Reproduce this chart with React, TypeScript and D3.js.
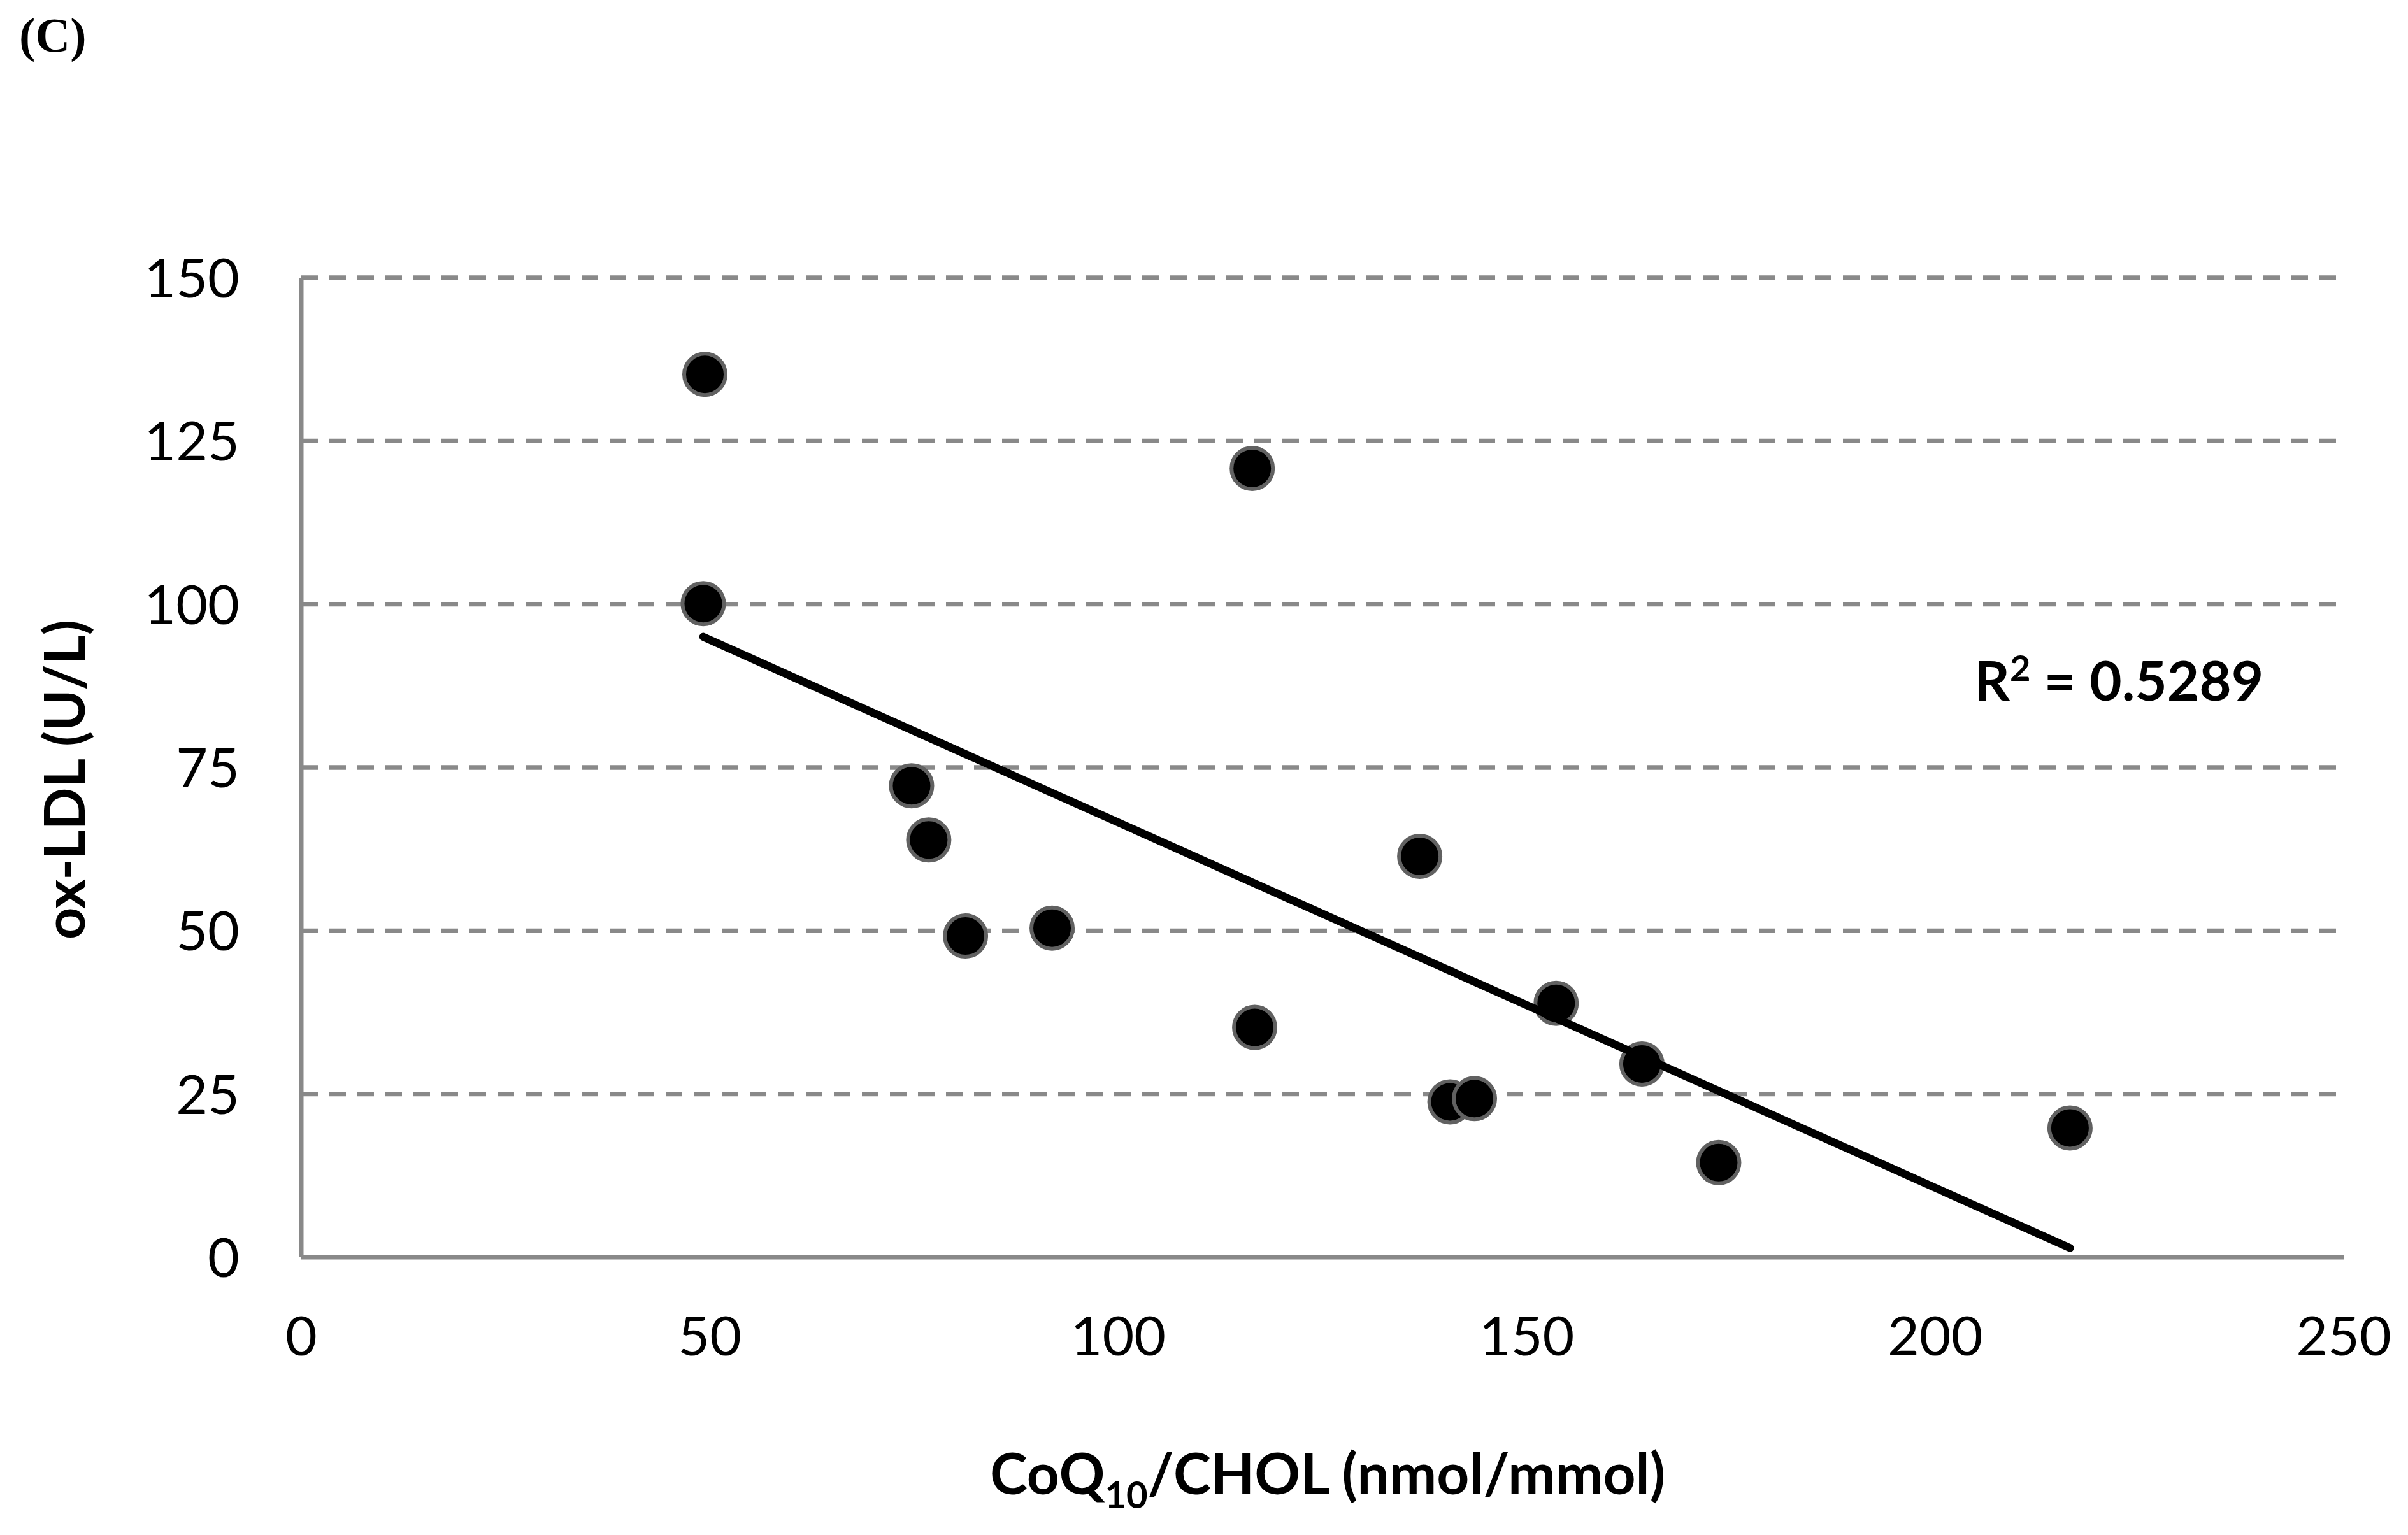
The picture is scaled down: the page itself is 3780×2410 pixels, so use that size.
import * as d3 from 'd3'
import React from 'react'

// Data (CoQ10/CHOL vs ox-LDL)
const coq10Chol = [49.4, 49.2, 116.4, 74.7, 76.8, 81.3, 91.9, 116.7, 136.9, 153.6, 140.6, 143.6, 164.1, 173.5, 216.5]
const oxLdl = [135.2, 100.1, 120.8, 72.2, 63.9, 49.2, 50.4, 35.2, 61.4, 38.9, 23.8, 24.3, 29.6, 14.5, 19.8]
const xTicks = [0, 50, 100, 150, 200, 250]
const yTicks = [0, 25, 50, 75, 100, 125, 150]
const rSquared = '0.5289'

const W = 3780
const H = 2410
const FONT = 'Lato, Carlito, "Open Sans", sans-serif'
const GRID = '#898989'

// least squares fit, like Excel's linear trendline
const linearFit = (xs: number[], ys: number[]) => {
  const mx = d3.mean(xs) as number
  const my = d3.mean(ys) as number
  let sxy = 0
  let sxx = 0
  xs.forEach((x, i) => {
    sxy += (x - mx) * (ys[i] - my)
    sxx += (x - mx) * (x - mx)
  })
  const slope = sxy / sxx
  return { slope, intercept: my - slope * mx }
}

const App = () => {
  const x = d3.scaleLinear().domain([0, 250]).range([473, 3679])
  const y = d3.scaleLinear().domain([0, 150]).range([1974, 436])

  const points = coq10Chol.map((v, i) => ({ x: v, y: oxLdl[i] }))
  const fit = linearFit(coq10Chol, oxLdl)
  const [xMin, xMax] = d3.extent(coq10Chol) as [number, number]
  const trend = d3.line<number>()
    .x((d) => x(d))
    .y((d) => y(fit.intercept + fit.slope * d))([xMin, xMax])

  return (
    <svg width={W} height={H} style={{ position: 'absolute', left: 0, top: 0, background: '#fff' }}>
      <rect width={W} height={H} fill='#fff' />

      {/* panel letter */}
      <text x={30} y={81} fontFamily='"Liberation Serif", "Times New Roman", serif' fontWeight='bold' fontSize={76}>(C)</text>

      {/* dashed gridlines */}
      {yTicks.filter((t) => t > 0).map((t) => (
        <line key={'g' + t} x1={x(0)} x2={x(250)} y1={y(t)} y2={y(t)}
          stroke={GRID} strokeWidth={7.3} strokeDasharray='26 18' />
      ))}

      {/* axes */}
      <line x1={x(0)} x2={x(0)} y1={y(150)} y2={y(0)} stroke={GRID} strokeWidth={7} />
      <line x1={x(0)} x2={x(250)} y1={y(0)} y2={y(0)} stroke={GRID} strokeWidth={7} />

      {/* tick labels */}
      {yTicks.map((t) => (
        <text key={'y' + t} x={376} y={y(t) + 31} textAnchor='end' fontFamily={FONT} fontSize={86}>{t}</text>
      ))}
      {xTicks.map((t) => (
        <text key={'x' + t} x={x(t)} y={2128} textAnchor='middle' fontFamily={FONT} fontSize={86}>{t}</text>
      ))}

      {/* markers */}
      {points.map((p, i) => (
        <circle key={'p' + i} cx={x(p.x)} cy={y(p.y)} r={32.5} fill='#000' stroke='#616161' strokeWidth={6} />
      ))}

      {/* trendline */}
      <path d={trend as string} fill='none' stroke='#000' strokeWidth={12.5} strokeLinecap='round' />

      {/* R squared */}
      <text x={3099} y={1100} fontFamily={FONT} fontWeight='bold' fontSize={87}>
        R<tspan fontSize={56} dy={-31}>2</tspan><tspan dy={31}>{' = ' + rSquared}</tspan>
      </text>

      {/* axis titles */}
      <text x={2084} y={2346} textAnchor='middle' fontFamily={FONT} fontWeight='bold' fontSize={89}>
        CoQ<tspan fontSize={58} dy={22}>10</tspan><tspan dy={-22}>/CHOL (nmol/mmol)</tspan>
      </text>
      <text transform={`translate(133, 1224) rotate(-90)`} textAnchor='middle' fontFamily={FONT} fontWeight='bold' fontSize={88}>
        ox-LDL (U/L)
      </text>
    </svg>
  )
}

export default App
